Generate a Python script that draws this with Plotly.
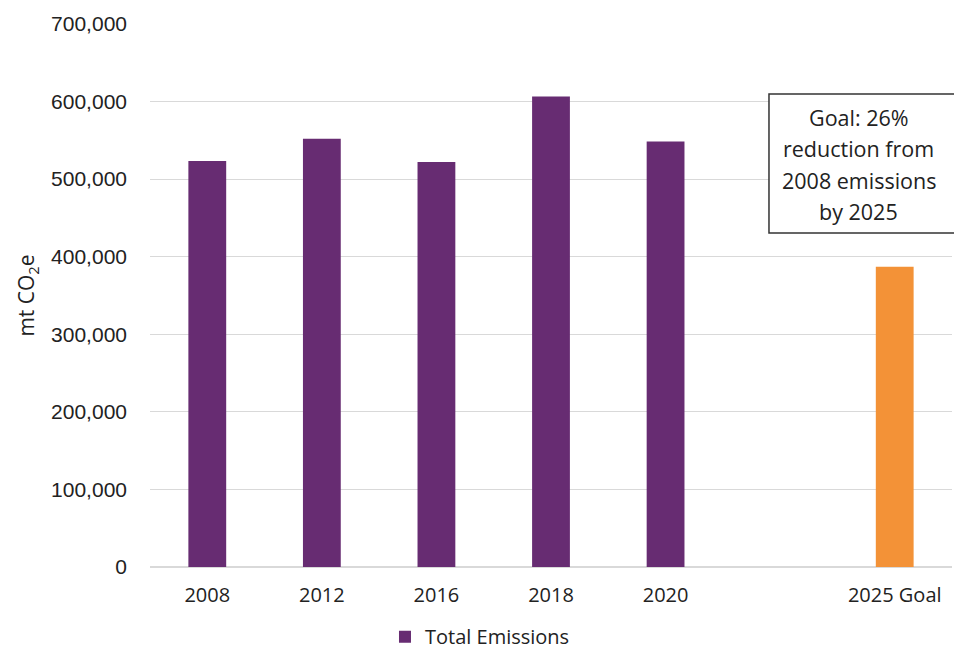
import plotly.graph_objects as go

categories = ["2008", "2012", "2016", "2018", "2020", " ", "2025 Goal"]
emissions = [523500, 552000, 522000, 606500, 548500, None, 387000]
bar_colors = ["#672C72", "#672C72", "#672C72", "#672C72", "#672C72", "#672C72", "#F39237"]
y_ticks = [0, 100000, 200000, 300000, 400000, 500000, 600000, 700000]
note_lines = ["Goal: 26%", "reduction from", "2008 emissions", "by 2025"]

fig = go.Figure()
fig.add_trace(go.Bar(
    x=categories, y=emissions, name="Total Emissions",
    marker=dict(color=bar_colors, line=dict(width=0)),
    showlegend=True,
))

fig.update_layout(
    width=954, height=651,
    margin=dict(l=150, r=2, t=24, b=84, autoexpand=False),
    paper_bgcolor="white", plot_bgcolor="white",
    bargap=0.67,
    font=dict(family="Open Sans", size=20, color="#222222"),
    showlegend=True,
    legend=dict(orientation="h", x=0.293, xanchor="left", xref="paper",
                y=0.022, yanchor="middle", yref="container",
                font=dict(family="Open Sans", size=20, color="#222222"),
                itemsizing="constant", itemwidth=30),
)
fig.update_xaxes(
    type="category", categoryorder="array", categoryarray=categories,
    showgrid=False, showline=False, zeroline=False,
    ticks="", ticklabelstandoff=14,
    tickfont=dict(family="Open Sans", size=20, color="#222222"),
)
fig.update_yaxes(
    range=[0, 700000], tickvals=y_ticks, tickformat=",d",
    showgrid=True, gridcolor="#D9D9D9", gridwidth=1,
    zeroline=True, zerolinecolor="#D9D9D9", zerolinewidth=1.5,
    showline=False, ticks="", ticklabelstandoff=22,
    tickfont=dict(family="Liberation Sans", size=21, color="#222222"),
    title=dict(text="mt CO<sub>2</sub>e", standoff=10,
               font=dict(family="Open Sans", size=21, color="#222222")),
)

fig.add_shape(type="rect", xref="paper", yref="paper",
              x0=0.7718, x1=1.01, y0=0.615, y1=0.871,
              line=dict(color="#333333", width=1.5), fillcolor="white")
line_ys = [0.827, 0.770, 0.711, 0.654]
for txt, yy in zip(note_lines, line_ys):
    fig.add_annotation(xref="paper", yref="paper", x=0.8835, y=yy,
                       text=txt, showarrow=False, xanchor="center", yanchor="middle",
                       font=dict(family="Open Sans", size=21.5, color="#222222"))

fig.write_html("out.html")
